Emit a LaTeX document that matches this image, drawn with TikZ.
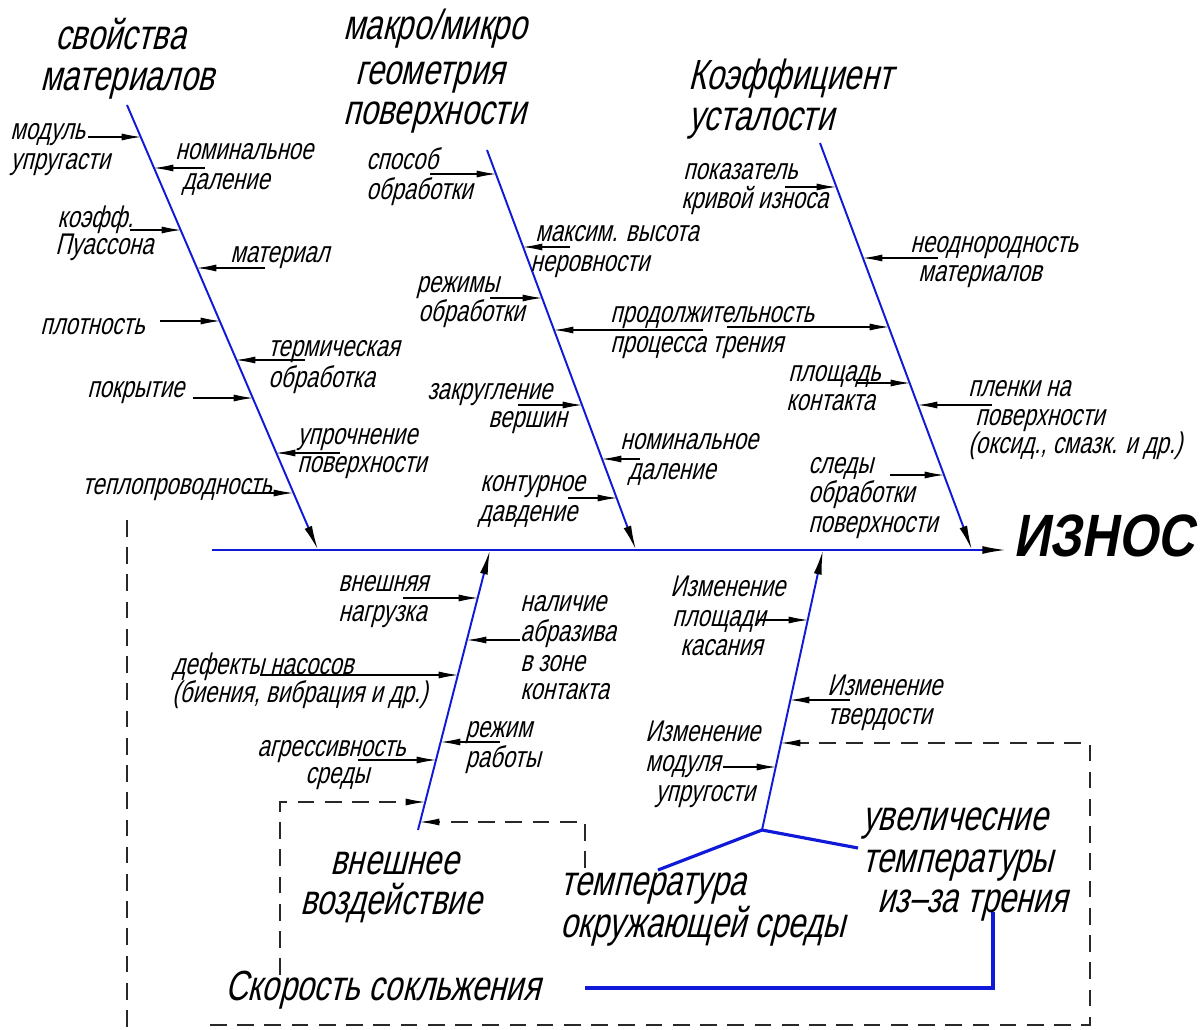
\documentclass[tikz,border=0pt]{standalone}
\usepackage{fontspec}
\newfontfamily\gost[FakeSlant=0.25,FakeStretch=0.74]{Liberation Sans}
\newfontfamily\gostB[FakeSlant=0.18,FakeStretch=0.85]{Liberation Sans}
\usetikzlibrary{arrows.meta}
\definecolor{bone}{RGB}{15,25,215}
\definecolor{dashc}{RGB}{40,40,40}
\tikzset{
 lbl/.style={font=\gost\fontsize{17}{20}\selectfont, anchor=west, inner sep=0pt, text height=0.55em, text depth=0pt, yshift=-2.8pt},
 ttl/.style={font=\gost\fontsize{24}{28}\selectfont, anchor=west, inner sep=0pt, text height=0.55em, text depth=0pt, yshift=-4.5pt},
 bonel/.style={draw=bone, line width=1.1pt},
 bonearr/.style={bonel, -{Latex[length=14pt,width=4.5pt,color=black]}},
 thickblue/.style={draw=bone, line width=1.8pt},
 larr/.style={draw=black, line width=0.6pt, -{Latex[length=11pt,width=4pt]}},
 dline/.style={draw=dashc, line width=0.6pt, dash pattern=on 9.5pt off 6pt},
 darr/.style={dline, -{Latex[length=11pt,width=4pt,color=black]}},
}
\begin{document}
\begin{tikzpicture}[x=0.02cm,y=-0.02cm]
\useasboundingbox[fill=white] (0,0) rectangle (1201,1030);

% spine
\coordinate (S0) at (212,550);
\coordinate (S1) at (1007,550);
\draw[draw=bone, line width=1.3pt, -{Latex[length=14pt,width=4.5pt,color=black]}] (S0) -- (S1);
\node[anchor=west, inner sep=0pt, text height=0.72em, text depth=0pt,
      font=\gostB\bfseries\fontsize{34}{36}\selectfont] (wear) at (1013,550) {ИЗНОС};

% bones
\coordinate (B1t) at (127,105); \coordinate (B1b) at (318,550);
\coordinate (B2t) at (487,150); \coordinate (B2b) at (636,550);
\coordinate (B3t) at (820,143); \coordinate (B3b) at (972,550);
\coordinate (B4b) at (418,830); \coordinate (B4t) at (490,550);
\coordinate (B5b) at (762,830); \coordinate (B5t) at (823,550);
\draw[bonearr] (B1t) -- (B1b);
\draw[bonearr] (B2t) -- (B2b);
\draw[bonearr] (B3t) -- (B3b);
\draw[bonearr] (B4b) -- (B4t);
\draw[bonearr] (B5b) -- (B5t);

% small arrows (name/start x/end x/y)
\foreach \n/\sx/\ex/\y in {
  a1/88/141/137, a2/205/154/168, a3/130/181/230, a4/265/197/268, a5/160/220/321,
  a6/305/236/360, a7/193/253/398, a8/340/276/453, a9/243/293/493,
  b1/430/496/174, b2/570/523/247, b3/490/542/298, b4/703/554/330, b5/518/582/405,
  b6/640/602/459, b7/568/617/498,
  c1/785/836/187, c2/938/863/258, c3/727/889/327, c4/857/910/383, c5/992/918/405,
  c6/890/944/475,
  d1/403/478/598, d2/520/467/640, d3/260/458/675, d4/500/441/742, d5/358/436/760,
  e1/757/808/620, e2/850/790/700, e3/723/776/767}
{
  \coordinate (\n s) at (\sx,\y);
  \coordinate (\n e) at (\ex,\y);
  \draw[larr] (\n s) -- (\n e);
}

% dashed feedback lines
\coordinate (f1a) at (280,975); \coordinate (f1b) at (280,802); \coordinate (f1e) at (425,802);
\draw[darr] (f1a) -- (f1b) -- (f1e);
\coordinate (f2a) at (585,868); \coordinate (f2b) at (585,822); \coordinate (f2e) at (420,822);
\draw[darr] (f2a) -- (f2b) -- (f2e);
\coordinate (f3a) at (210,1025); \coordinate (f3b) at (1090,1025); \coordinate (f3c) at (1090,743); \coordinate (f3e) at (781,743);
\draw[darr] (f3a) -- (f3b) -- (f3c) -- (f3e);
\coordinate (f4a) at (127,520); \coordinate (f4b) at (127,1030);
\draw[dline] (f4a) -- (f4b);

% thick blue lines
\coordinate (g1) at (658,870); \coordinate (g2) at (858,848);
\draw[thickblue] (g1) -- (B5b) -- (g2);
\coordinate (h1) at (993,912); \coordinate (h2) at (993,988); \coordinate (h3) at (585,988);
\draw[thickblue] (h1) -- (h2) -- (h3);

% titles
\node[ttl] (T1) at (55,37) {свойства};
\node[ttl] (T2) at (40,78) {материалов};
\node[ttl] (T3) at (343,27) {макро/микро};
\node[ttl] (T4) at (355,72) {геометрия};
\node[ttl] (T5) at (343,112) {поверхности};
\node[ttl] (T6) at (688,77) {Коэффициент};
\node[ttl] (T7) at (688,118) {усталости};
\node[ttl] (T8) at (330,862) {внешнее};
\node[ttl] (T9) at (300,902) {воздействие};
\node[ttl] (T10) at (560,883) {температура};
\node[ttl] (T11) at (560,925) {окружающей среды};
\node[ttl] (T12) at (862,818) {увеличесние};
\node[ttl] (T13) at (862,860) {температуры};
\node[ttl] (T14) at (877,900) {из–за трения};
\node[ttl] (T15) at (225,988) {Скорость сокльжения};

% bone 1 labels
\node[lbl] (L1) at (10,130) {модуль};
\node[lbl] (L2) at (10,160) {упругасти};
\node[lbl] (L3) at (175,150) {номинальное};
\node[lbl] (L4) at (182,180) {даление};
\node[lbl] (L5) at (57,218) {коэфф.};
\node[lbl] (L6) at (55,245) {Пуассона};
\node[lbl] (L7) at (230,253) {материал};
\node[lbl] (L8) at (40,325) {плотность};
\node[lbl] (L9) at (268,347) {термическая};
\node[lbl] (L10) at (268,378) {обработка};
\node[lbl] (L11) at (87,388) {покрытие};
\node[lbl] (L12) at (297,435) {упрочнение};
\node[lbl] (L13) at (297,463) {поверхности};
\node[lbl] (L14) at (82,485) {теплопроводность};

% bone 2 labels
\node[lbl] (M1) at (366,160) {способ};
\node[lbl] (M2) at (366,190) {обработки};
\node[lbl] (M3) at (535,232) {максим. высота};
\node[lbl] (M4) at (530,262) {неровности};
\node[lbl] (M5) at (416,283) {режимы};
\node[lbl] (M6) at (418,312) {обработки};
\node[lbl] (M7) at (610,313) {продолжительность};
\node[lbl] (M8) at (610,343) {процесса трения};
\node[lbl] (M9) at (427,390) {закругление};
\node[lbl] (M10) at (488,418) {вершин};
\node[lbl] (M11) at (620,440) {номинальное};
\node[lbl] (M12) at (628,470) {даление};
\node[lbl] (M13) at (480,482) {контурное};
\node[lbl] (M14) at (478,512) {давдение};

% bone 3 labels
\node[lbl] (N1) at (683,170) {показатель};
\node[lbl] (N2) at (681,199) {кривой износа};
\node[lbl] (N3) at (910,243) {неоднородность};
\node[lbl] (N4) at (918,272) {материалов};
\node[lbl] (N5) at (788,372) {площадь};
\node[lbl] (N6) at (786,401) {контакта};
\node[lbl] (N7) at (968,387) {пленки на};
\node[lbl] (N8) at (975,416) {поверхности};
\node[lbl] (N9) at (968,444) {(оксид., смазк. и др.)};
\node[lbl] (N10) at (808,464) {следы};
\node[lbl] (N11) at (808,493) {обработки};
\node[lbl] (N12) at (808,523) {поверхности};

% bone 4 labels
\node[lbl] (P1) at (338,582) {внешняя};
\node[lbl] (P2) at (338,612) {нагрузка};
\node[lbl] (P3) at (520,602) {наличие};
\node[lbl] (P4) at (520,632) {абразива};
\node[lbl] (P5) at (520,662) {в зоне};
\node[lbl] (P6) at (520,690) {контакта};
\node[lbl] (P7) at (172,665) {дефекты насосов};
\node[lbl] (P8) at (172,693) {(биения, вибрация и др.)};
\node[lbl] (P9) at (257,747) {агрессивность};
\node[lbl] (P10) at (305,774) {среды};
\node[lbl] (P11) at (465,728) {режим};
\node[lbl] (P12) at (465,758) {работы};

% bone 5 labels
\node[lbl] (Q1) at (670,587) {Изменение};
\node[lbl] (Q2) at (672,617) {площади};
\node[lbl] (Q3) at (680,646) {касания};
\node[lbl] (Q4) at (827,686) {Изменение};
\node[lbl] (Q5) at (827,715) {твердости};
\node[lbl] (Q6) at (645,732) {Изменение};
\node[lbl] (Q7) at (645,762) {модуля};
\node[lbl] (Q8) at (655,792) {упругости};
\end{tikzpicture}
\end{document}
